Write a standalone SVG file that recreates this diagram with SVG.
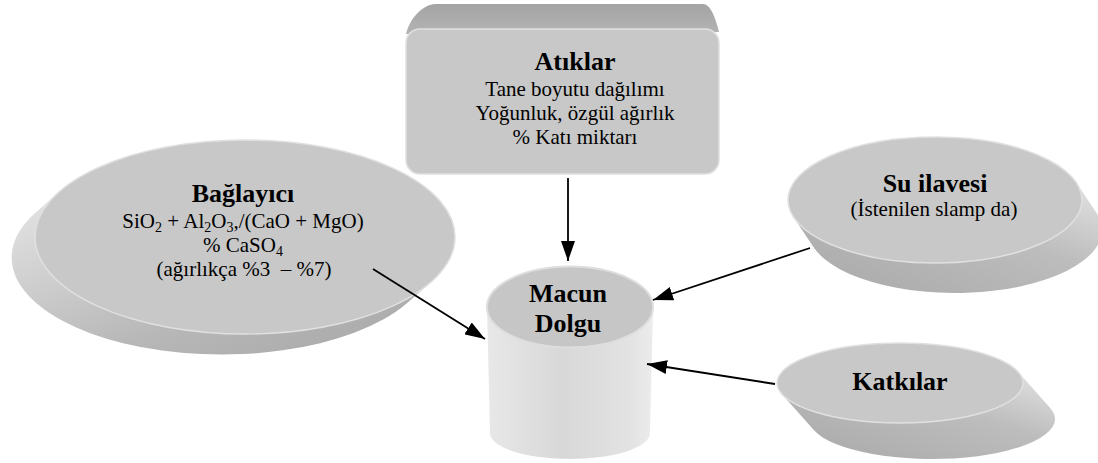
<svg xmlns="http://www.w3.org/2000/svg" width="1098" height="463" viewBox="0 0 1098 463">
<style>
.face{fill:#c8c8c8;stroke:#e0e0e0;stroke-width:1.5}
.t{fill:#000;text-anchor:middle}
.b{font-weight:bold;font-size:26px}
.r{font-size:21px}
.conn{stroke:#000;stroke-width:1.8;fill:none;marker-end:url(#ah)}
</style>
<defs>
<marker id="ah" viewBox="0 0 20 14" refX="20" refY="7" markerWidth="20" markerHeight="14" markerUnits="userSpaceOnUse" orient="auto">
<path d="M0,0 L20,7 L0,14 Z" fill="#000"/>
</marker>
<linearGradient id="sideL" x1="0" y1="0" x2="1" y2="1">
<stop offset="0" stop-color="#e6e6e6"/>
<stop offset="0.6" stop-color="#b8b8b8"/>
<stop offset="1" stop-color="#a6a6a6"/>
</linearGradient>
<linearGradient id="sideR" x1="0" y1="1" x2="1" y2="0">
<stop offset="0" stop-color="#a8a8a8"/>
<stop offset="0.6" stop-color="#bdbdbd"/>
<stop offset="1" stop-color="#e4e4e4"/>
</linearGradient>
<linearGradient id="topBand" x1="0" y1="0" x2="0" y2="1">
<stop offset="0" stop-color="#a4a4a4"/>
<stop offset="1" stop-color="#b4b4b4"/>
</linearGradient>
<linearGradient id="cyl" x1="0" y1="0" x2="1" y2="0">
<stop offset="0" stop-color="#e8e8e8"/>
<stop offset="0.45" stop-color="#d8d8d8"/>
<stop offset="0.85" stop-color="#e2e2e2"/>
<stop offset="1" stop-color="#ececec"/>
</linearGradient>
</defs>

<g font-family="'Liberation Serif', 'DejaVu Serif', 'Times New Roman', serif">
<g id="atiklar">
<path d="M406,34 C409,20 422,4 436,4 L703,4 C710,4 715,16 719,32 Z" fill="url(#topBand)"/>
<rect class="face" x="406" y="29" width="313" height="145" rx="14"/>
<text class="t b" x="575" y="70">Atıklar</text>
<text class="t r" x="575" y="96">Tane boyutu dağılımı</text>
<text class="t r" x="575" y="120">Yoğunluk, özgül ağırlık</text>
<text class="t r" x="575" y="144">% Katı miktarı</text>
</g>

<g id="baglayici">
<path d="M59,192 L34,214 A210 97 0 0 0 406,304 L431,282 A210 97 0 0 1 59,192 Z" fill="url(#sideL)"/>
<ellipse class="face" cx="245" cy="237" rx="210" ry="97"/>
<text class="t b" x="243" y="202">Bağlayıcı</text>
<text class="t r" x="243" y="228">SiO<tspan font-size="14" dy="4">2</tspan><tspan dy="-4"> + Al</tspan><tspan font-size="14" dy="4">2</tspan><tspan dy="-4">O</tspan><tspan font-size="14" dy="4">3</tspan><tspan dy="-4">,/(CaO + MgO)</tspan></text>
<text class="t r" x="243" y="252">% CaSO<tspan font-size="14" dy="4">4</tspan></text>
<text class="t r" x="244" y="276" xml:space="preserve">(ağırlıkça %3  – %7)</text>
</g>

<g id="su-ilavesi">
<path d="M793.6,217.3 L813.6,247.3 A147 63 0 0 0 1096.4,212.7 L1076.4,182.7 A147 63 0 0 1 793.6,217.3 Z" fill="url(#sideR)"/>
<ellipse class="face" cx="935" cy="200" rx="147" ry="63"/>
<text class="t b" x="935" y="192">Su ilavesi</text>
<text class="t r" x="934" y="216">(İstenilen slamp da)</text>
</g>

<g id="katkilar">
<path d="M781.8,394.1 L813.8,430.1 A123 40 0 0 0 1050.2,407.9 L1018.2,371.9 A123 40 0 0 1 781.8,394.1 Z" fill="url(#sideR)"/>
<ellipse class="face" cx="900" cy="383" rx="123" ry="40"/>
<text class="t b" x="900" y="390">Katkılar</text>
</g>

<g id="macun-dolgu">
<path d="M487,307 L490,433 A80 26 0 0 0 650,433 L653,307 Z" fill="url(#cyl)"/>
<ellipse cx="570" cy="307" rx="83" ry="40.5" fill="#c6c6c6" stroke="#dedede" stroke-width="2"/>
<text class="t b" x="568" y="302">Macun</text>
<text class="t b" x="568" y="332">Dolgu</text>
</g>
</g>

<g id="connectors">
<line class="conn" x1="568" y1="178" x2="568" y2="261"/>
<line class="conn" x1="373" y1="269" x2="485" y2="339"/>
<line class="conn" x1="810" y1="248" x2="653" y2="300"/>
<line class="conn" x1="775" y1="384" x2="647" y2="364"/>
</g>
</svg>
